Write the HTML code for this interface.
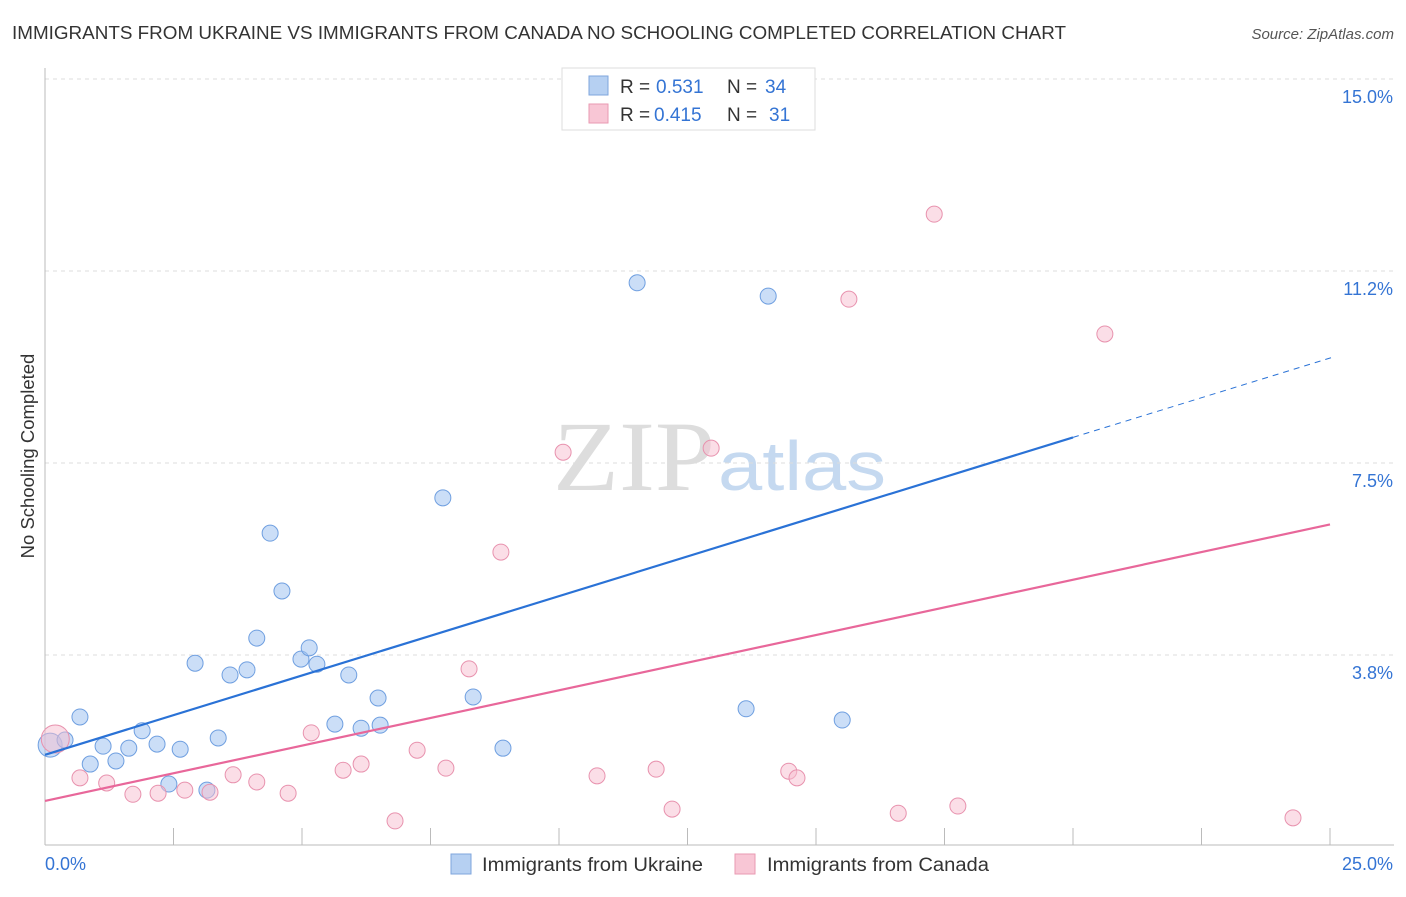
<!DOCTYPE html>
<html><head><meta charset="utf-8"><style>
body{margin:0;background:#fff;}
</style></head><body>
<svg id="c" width="1406" height="892" style="font-family:'Liberation Sans',sans-serif">
<text x="12" y="39" font-size="18" fill="#333" textLength="1054" lengthAdjust="spacingAndGlyphs">IMMIGRANTS FROM UKRAINE VS IMMIGRANTS FROM CANADA NO SCHOOLING COMPLETED CORRELATION CHART</text>
<text x="1394" y="39" font-size="15" fill="#555" font-style="italic" text-anchor="end">Source: ZipAtlas.com</text>
<text x="34" y="456" font-size="18.5" fill="#333" transform="rotate(-90 34 456)" text-anchor="middle">No Schooling Completed</text>
<text x="553" y="490" font-size="100" fill="#ddd" style="font-family:'Liberation Serif',serif" textLength="162" lengthAdjust="spacingAndGlyphs">ZIP</text>
<text x="718" y="490" font-size="70" fill="#c5d9f0" textLength="168" lengthAdjust="spacingAndGlyphs">atlas</text>
<g id="grid"></g><g id="pts"></g>
<g>
<rect x="562" y="68" width="253" height="62" fill="#fff" stroke="#ddd"/>
<rect x="589" y="76" width="19" height="19" fill="#b6d0f2" stroke="#7fa6dc"/>
<text x="620" y="93" font-size="19" fill="#333">R =</text><text x="656" y="93" font-size="19" fill="#3474d4">0.531</text>
<text x="727" y="93" font-size="19" fill="#333">N =</text><text x="765" y="93" font-size="19" fill="#3474d4">34</text>
<rect x="589" y="104" width="19" height="19" fill="#f8c6d5" stroke="#e99ab2"/>
<text x="620" y="121" font-size="19" fill="#333">R =</text><text x="654" y="121" font-size="19" fill="#3474d4">0.415</text>
<text x="727" y="121" font-size="19" fill="#333">N =</text><text x="769" y="121" font-size="19" fill="#3474d4">31</text>
</g>
<g>
<rect x="451" y="854" width="20" height="20" fill="#b6d0f2" stroke="#7fa6dc"/>
<text x="482" y="871" font-size="19" fill="#333" textLength="221" lengthAdjust="spacingAndGlyphs">Immigrants from Ukraine</text>
<rect x="735" y="854" width="20" height="20" fill="#f8c6d5" stroke="#e99ab2"/>
<text x="767" y="871" font-size="19" fill="#333" textLength="222" lengthAdjust="spacingAndGlyphs">Immigrants from Canada</text>
</g>
</svg>
<script>
const yTicks=[3.75,7.5,11.25,15];
const yTickLabels=["3.8%","7.5%","11.2%","15.0%"];
const ukX=[0.1,0.39,0.68,0.88,1.13,1.38,1.63,1.89,2.18,2.41,2.63,2.92,3.15,3.37,3.6,3.93,4.12,4.38,4.61,4.98,5.14,5.29,5.64,5.91,6.15,6.48,6.52,7.74,8.33,8.91,11.52,13.64,14.07,15.51];
const ukY=[1.99,2.09,2.54,1.62,1.97,1.68,1.93,2.27,2.01,1.23,1.91,3.59,1.11,2.13,3.36,3.46,4.08,6.13,5.0,3.67,3.89,3.57,2.4,3.36,2.32,2.91,2.38,6.82,2.93,1.93,11.02,2.7,10.76,2.48];
const caX=[0.2,0.68,1.2,1.71,2.2,2.72,3.21,3.66,4.12,4.73,5.18,5.8,6.15,6.81,7.24,7.8,8.25,8.87,10.08,10.74,11.89,12.2,12.96,14.47,14.63,15.64,16.6,17.3,17.76,20.62,24.28];
const caY=[2.11,1.35,1.25,1.03,1.05,1.11,1.07,1.41,1.27,1.05,2.23,1.5,1.62,0.51,1.89,1.54,3.48,5.76,7.71,1.39,1.52,0.74,7.79,1.48,1.35,10.7,0.66,12.36,0.8,10.02,0.57];
const ukLine=[1.8,9.55], caLine=[0.9,6.3];
const X=v=>45+v*51.4, Y=v=>847-v*51.2;
const NS="http://www.w3.org/2000/svg";
function mk(t,a,p){const e=document.createElementNS(NS,t);for(const k in a)e.setAttribute(k,a[k]);p.appendChild(e);return e;}
const g=document.getElementById('grid'), P=document.getElementById('pts');
yTicks.forEach((v,i)=>{
 const l=mk('line',{x1:45,x2:1394,y1:Y(v),y2:Y(v),stroke:'#ddd','stroke-dasharray':'4,4'},g);
 
 
 const t=mk('text',{x:1393,y:Y(v)+24,'font-size':18,fill:'#3474d4','text-anchor':'end'},g);t.textContent=yTickLabels[i];
 
 
});
mk('line',{x1:45,x2:45,y1:68,y2:845,stroke:'#bbb'},g);
mk('line',{x1:45,x2:1394,y1:845,y2:845,stroke:'#bbb'},g);
for(let i=1;i<=10;i++){mk('line',{x1:X(i*2.5),x2:X(i*2.5),y1:828,y2:845,stroke:'#bbb'},g);}
let t=mk('text',{x:45,y:870,'font-size':18,fill:'#3474d4'},g);t.textContent="0.0%";


t=mk('text',{x:1393,y:870,'font-size':18,fill:'#3474d4','text-anchor':'end'},g);t.textContent="25.0%";


ukX.forEach((x,i)=>{const c=mk('circle',{cx:X(x),cy:Y(ukY[i]),r:i==0?12:8,fill:'rgba(160,195,240,0.55)',stroke:'#6f9fe0','stroke-width':1},P);
 
 });
caX.forEach((x,i)=>{const c=mk('circle',{cx:X(x),cy:Y(caY[i]),r:i==0?14:8,fill:'rgba(248,190,208,0.5)',stroke:'#e892ae','stroke-width':1},P);
 
 });
const f=(L,x)=>L[0]+(L[1]-L[0])*x/25;
let l=mk('line',{x1:X(0),y1:Y(f(ukLine,0)),x2:X(20),y2:Y(f(ukLine,20)),stroke:'#2a72d6','stroke-width':2.2},P);


l=mk('line',{x1:X(20),y1:Y(f(ukLine,20)),x2:X(25.05),y2:Y(f(ukLine,25.05)),stroke:'#2a72d6','stroke-width':1,'stroke-dasharray':'6,5'},P);


l=mk('line',{x1:X(0),y1:Y(f(caLine,0)),x2:X(25),y2:Y(f(caLine,25)),stroke:'#e8679a','stroke-width':2.2},P);


</script>
</body></html>
